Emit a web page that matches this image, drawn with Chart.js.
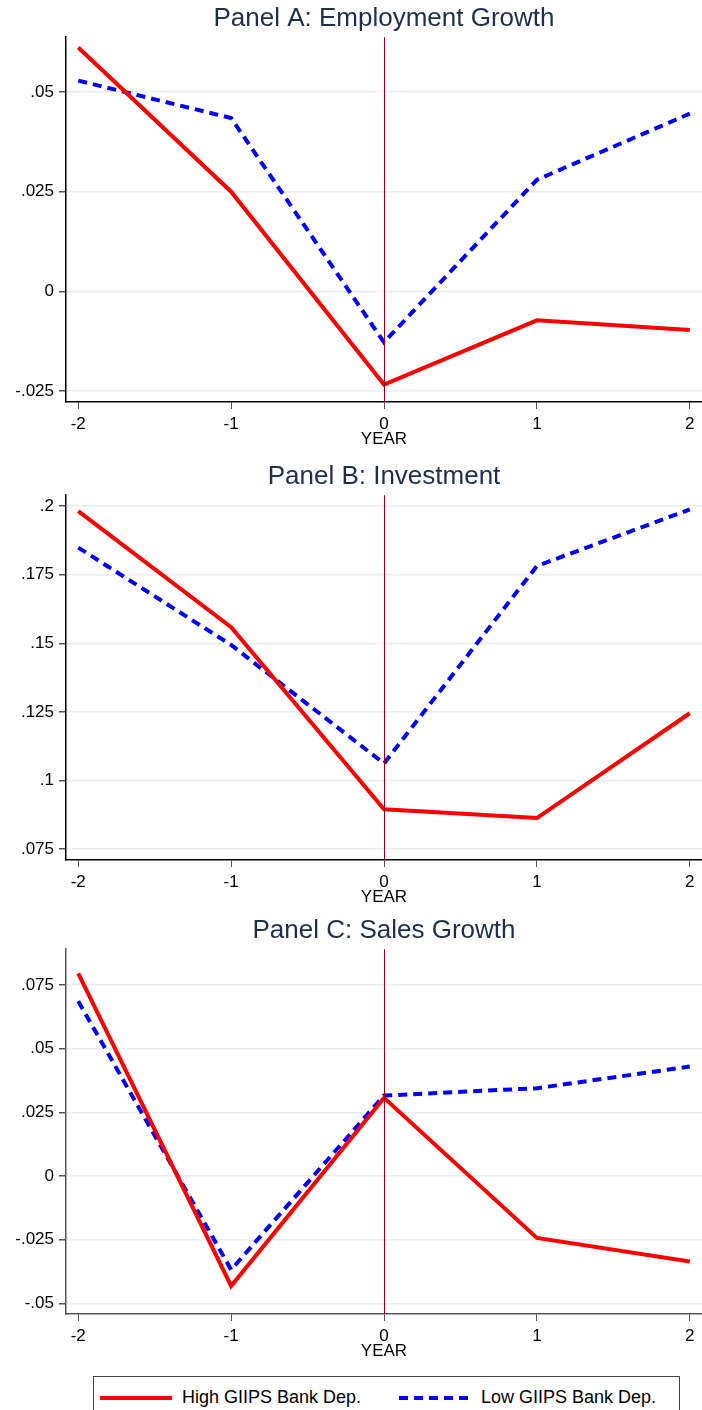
<!DOCTYPE html>
<html lang="en">
<head>
    <meta charset="UTF-8">
    <title>GIIPS bank dependence panels</title>
    <style>
        body { margin: 0; background: #fff; width: 702px; height: 1410px; overflow: hidden; position: relative; }
        canvas { position: absolute; left: 0; }
        #legend {
            position: absolute; left: 93px; top: 1376px; width: 585px; height: 40px;
            border: 1px solid #444; background: #fff;
            font-family: "Liberation Sans", Arial, sans-serif; font-size: 18px; color: #000;
        }
        #legend svg { position: absolute; top: 18px; }
        #legend span { position: absolute; top: 10px; }
    </style>
</head>
<body>
    <canvas id="panel-a" width="702" height="450" style="top:0px"></canvas>
    <canvas id="panel-b" width="702" height="450" style="top:458px"></canvas>
    <canvas id="panel-c" width="702" height="450" style="top:912px"></canvas>

    <div id="legend">
        <svg width="72" height="6" style="left:6px"><line x1="0" y1="3" x2="72" y2="3" stroke="#ff0000" stroke-width="4"/></svg>
        <span style="left:88px">High GIIPS Bank Dep.</span>
        <svg width="72" height="6" style="left:305px"><line x1="0" y1="3" x2="72" y2="3" stroke="#0000ff" stroke-width="4" stroke-dasharray="9 6"/></svg>
        <span style="left:387px">Low GIIPS Bank Dep.</span>
    </div>

    <script src="https://cdn.jsdelivr.net/npm/chart.js"></script>
    <script>
        // years relative to the event
        const years = [-2, -1, 0, 1, 2];
        const eventYear = 0;

        // Panel A: employment growth
        const empHigh = [0.0612, 0.0250, -0.0234, -0.0073, -0.0097];
        const empLow = [0.0529, 0.0435, -0.0128, 0.0280, 0.0446];
        const empTicks = [-0.025, 0, 0.025, 0.05];
        const empTickLabels = ['-.025', '0', '.025', '.05'];

        // Panel B: investment
        const invHigh = [0.1982, 0.1559, 0.0895, 0.0863, 0.1245];
        const invLow = [0.1849, 0.1494, 0.1062, 0.1782, 0.1988];
        const invTicks = [0.075, 0.1, 0.125, 0.15, 0.175, 0.2];
        const invTickLabels = ['.075', '.1', '.125', '.15', '.175', '.2'];

        // Panel C: sales growth
        const salesHigh = [0.0796, -0.0432, 0.0307, -0.0243, -0.0336];
        const salesLow = [0.0687, -0.0368, 0.0316, 0.0345, 0.0430];
        const salesTicks = [-0.05, -0.025, 0, 0.025, 0.05, 0.075];
        const salesTickLabels = ['-.05', '-.025', '0', '.025', '.05', '.075'];

        const FONT = '"Liberation Sans", Arial, sans-serif';

        // thin vertical line at the event year
        const eventLine = {
            id: 'eventLine',
            afterDatasetsDraw(chart) {
                const x = Math.round(chart.scales.x.getPixelForValue(eventYear)) + 0.5;
                const area = chart.chartArea;
                const ctx = chart.ctx;
                ctx.save();
                ctx.strokeStyle = '#a00020';
                ctx.lineWidth = 1;
                ctx.beginPath();
                ctx.moveTo(x, area.top);
                ctx.lineTo(x, area.bottom);
                ctx.stroke();
                ctx.restore();
            }
        };

        function makePanel(id, title, high, low, ticks, tickLabels, yMin, yMax, axisColor) {
            const ctx = document.getElementById(id).getContext('2d');
            return new Chart(ctx, {
                type: 'line',
                data: {
                    datasets: [
                        {
                            label: 'High GIIPS Bank Dep.',
                            data: years.map((y, i) => ({ x: y, y: high[i] })),
                            borderColor: '#ff0000',
                            borderWidth: 4,
                            pointRadius: 0,
                            fill: false
                        },
                        {
                            label: 'Low GIIPS Bank Dep.',
                            data: years.map((y, i) => ({ x: y, y: low[i] })),
                            borderColor: '#0000ff',
                            borderWidth: 4,
                            borderDash: [9, 6],
                            pointRadius: 0,
                            fill: false
                        }
                    ]
                },
                options: {
                    responsive: false,
                    animation: false,
                    layout: { padding: 0 },
                    plugins: {
                        legend: { display: false },
                        tooltip: { enabled: false },
                        title: {
                            display: true,
                            fullSize: false, // centre over the plot area, not the canvas
                            text: title,
                            color: '#1f2d4e',
                            font: { family: FONT, size: 26, weight: 'normal', lineHeight: 1.2 },
                            padding: { top: 3, bottom: 3 }
                        }
                    },
                    scales: {
                        x: {
                            type: 'linear',
                            min: -2.08,
                            max: 2.08,
                            afterBuildTicks: (s) => { s.ticks = years.map(v => ({ value: v })); },
                            afterFit: (s) => { s.height = 48; },
                            grid: { drawOnChartArea: false, drawTicks: true, tickLength: 7, tickColor: '#555' },
                            border: { color: axisColor, width: 1.5 },
                            ticks: {
                                color: '#000',
                                font: { family: FONT, size: 17 },
                                padding: 5,
                                maxRotation: 0,
                                callback: (v) => String(v)
                            },
                            title: {
                                display: true,
                                text: 'YEAR',
                                color: '#000',
                                font: { family: FONT, size: 17 },
                                padding: 0
                            }
                        },
                        y: {
                            type: 'linear',
                            min: yMin,
                            max: yMax,
                            afterBuildTicks: (s) => { s.ticks = ticks.map(v => ({ value: v })); },
                            afterFit: (s) => { s.width = 66; },
                            grid: { color: '#e8eff2', lineWidth: 1.5, tickLength: 7, tickColor: '#555' },
                            border: { color: axisColor, width: 1.5 },
                            ticks: {
                                color: '#000',
                                font: { family: FONT, size: 17 },
                                padding: 5,
                                callback: (v) => tickLabels[ticks.indexOf(v)]
                            }
                        }
                    }
                },
                plugins: [eventLine]
            });
        }

        makePanel('panel-a', 'Panel A: Employment Growth', empHigh, empLow, empTicks, empTickLabels, -0.0278, 0.0638, '#000');
        makePanel('panel-b', 'Panel B: Investment', invHigh, invLow, invTicks, invTickLabels, 0.071, 0.204, '#000');
        makePanel('panel-c', 'Panel C: Sales Growth', salesHigh, salesLow, salesTicks, salesTickLabels, -0.0542, 0.0891, '#555');
    </script>
</body>
</html>
